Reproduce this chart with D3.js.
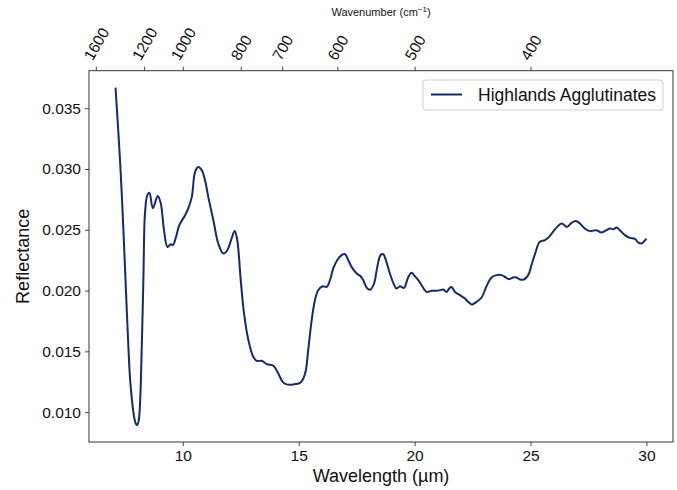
<!DOCTYPE html>
<html><head><meta charset="utf-8">
<script src="https://cdn.jsdelivr.net/npm/d3@7"></script>
<style>body{margin:0;background:#fff}svg{display:block}text{font-family:"Liberation Sans",Arial,sans-serif;fill:#111}</style>
</head><body><svg id="c" width="677" height="490"></svg>
<script>
const wavelength = [7.10,7.30,7.44,7.59,7.73,7.83,7.90,7.95,7.98,8.02,8.06,8.10,8.14,8.19,8.30,8.37,8.47,8.56,8.71,8.92,9.05,9.19,9.34,9.48,9.57,9.71,9.85,10.10,10.24,10.39,10.53,10.67,10.82,10.96,11.10,11.32,11.53,11.75,11.92,12.11,12.24,12.35,12.50,12.64,12.83,13.04,13.19,13.41,13.62,13.91,14.12,14.31,14.48,14.77,15.06,15.20,15.31,15.41,15.56,15.70,15.84,16.03,16.21,16.35,16.49,16.66,16.85,17.00,17.14,17.28,17.50,17.67,17.78,17.96,18.10,18.25,18.39,18.53,18.65,18.76,18.91,19.08,19.22,19.37,19.54,19.72,19.87,20.01,20.16,20.30,20.52,20.73,20.95,21.09,21.23,21.38,21.49,21.59,21.74,21.95,22.17,22.31,22.47,22.67,22.89,23.10,23.32,23.53,23.75,23.89,24.08,24.25,24.40,24.54,24.71,24.90,25.04,25.19,25.40,25.62,25.80,25.97,26.15,26.34,26.58,26.77,26.95,27.13,27.34,27.56,27.84,28.06,28.28,28.42,28.59,28.71,28.85,29.07,29.28,29.50,29.64,29.78,29.88,30.00];
const reflectance = [0.03670,0.03048,0.02497,0.01814,0.01263,0.01060,0.00960,0.00918,0.00902,0.00893,0.00902,0.00930,0.01010,0.01240,0.02086,0.02637,0.02785,0.02804,0.02678,0.02779,0.02719,0.02497,0.02359,0.02382,0.02373,0.02442,0.02538,0.02620,0.02678,0.02771,0.02976,0.03017,0.02990,0.02908,0.02771,0.02579,0.02387,0.02305,0.02332,0.02431,0.02491,0.02414,0.02086,0.01814,0.01592,0.01455,0.01422,0.01422,0.01395,0.01381,0.01318,0.01249,0.01228,0.01228,0.01241,0.01277,0.01345,0.01510,0.01757,0.01921,0.02003,0.02036,0.02030,0.02086,0.02182,0.02250,0.02291,0.02299,0.02250,0.02195,0.02141,0.02118,0.02086,0.02017,0.02009,0.02058,0.02195,0.02291,0.02299,0.02250,0.02154,0.02063,0.02017,0.02036,0.02022,0.02108,0.02146,0.02118,0.02086,0.02044,0.01989,0.01998,0.01998,0.02003,0.02009,0.01989,0.02017,0.02030,0.01989,0.01962,0.01935,0.01907,0.01886,0.01907,0.01943,0.02036,0.02108,0.02127,0.02127,0.02113,0.02094,0.02108,0.02108,0.02091,0.02091,0.02127,0.02209,0.02299,0.02401,0.02415,0.02442,0.02483,0.02524,0.02552,0.02524,0.02557,0.02573,0.02552,0.02511,0.02489,0.02497,0.02478,0.02497,0.02511,0.02505,0.02519,0.02497,0.02456,0.02433,0.02425,0.02396,0.02387,0.02401,0.02428];
const xTicks = [10,15,20,25,30];
const yTicks = [0.010,0.015,0.020,0.025,0.030,0.035];
const wavenumberTicks = [1600,1200,1000,800,700,600,500,400];
const seriesName = "Highlands Agglutinates";

const W=677,H=490, L=89, R=673, T=70.7, B=442;
const svg=d3.select("#c");
const xe=d3.extent(wavelength), ye=d3.extent(reflectance);
const xm=(xe[1]-xe[0])*0.05, ym=(ye[1]-ye[0])*0.05;
const x=d3.scaleLinear().domain([xe[0]-xm,xe[1]+xm]).range([L,R]);
const y=d3.scaleLinear().domain([ye[0]-ym,ye[1]+ym]).range([B,T]);
const fs=15.5;

const gx=svg.append("g").attr("transform",`translate(0,${B})`)
  .call(d3.axisBottom(x).tickValues(xTicks).tickFormat(d3.format("d")).tickSizeOuter(0).tickSize(4).tickPadding(4));
const gy=svg.append("g").attr("transform",`translate(${L},0)`)
  .call(d3.axisLeft(y).tickValues(yTicks).tickFormat(d3.format(".3f")).tickSizeOuter(0).tickSize(4).tickPadding(4));
const gt=svg.append("g").attr("transform",`translate(0,${T})`)
  .call(d3.axisTop(x).tickValues(wavenumberTicks.map(w=>10000/w)).tickFormat(d=>Math.round(10000/d)).tickSizeOuter(0).tickSize(4));
[gx,gy,gt].forEach(g=>{g.select(".domain").remove();g.selectAll("line").attr("stroke","#333").attr("stroke-width",0.9);
  g.selectAll("text").style("font-size",fs+"px").attr("fill","#111");});
gt.selectAll("text").each(function(){
  const t=d3.select(this); const w=this.getComputedTextLength();
  const h=w*Math.sin(Math.PI/3)+fs*Math.cos(Math.PI/3);
  t.attr("y",null).attr("dy",null).attr("text-anchor","middle").attr("dominant-baseline","central")
   .attr("transform",`translate(0,${-8-h/2}) rotate(-60)`);
});

svg.append("rect").attr("x",L).attr("y",T).attr("width",R-L).attr("height",B-T)
  .attr("fill","none").attr("stroke","#333").attr("stroke-width",1);

const data=wavelength.map((d,i)=>[d,reflectance[i]]);
svg.append("path").datum(data).attr("fill","none").attr("stroke","#17296b").attr("stroke-width",2)
  .attr("stroke-linejoin","round")
  .attr("d",d3.line().x(d=>x(d[0])).y(d=>y(d[1])).curve(d3.curveCatmullRom.alpha(0.5)));

svg.append("text").attr("x",(L+R)/2).attr("y",482).attr("text-anchor","middle").style("font-size","18px").text("Wavelength (µm)");
svg.append("text").attr("transform",`translate(29,${(T+B)/2}) rotate(-90)`).attr("text-anchor","middle").style("font-size","18px").text("Reflectance");
const wt=svg.append("text").attr("x",(L+R)/2).attr("y",16).attr("text-anchor","middle").style("font-size","11px");
wt.append("tspan").text("Wavenumber (cm");
wt.append("tspan").attr("dy",-4).style("font-size","8px").text("−1");
wt.append("tspan").attr("dy",4).text(")");

const lg=svg.append("g");
lg.append("rect").attr("x",423).attr("y",80).attr("width",240).attr("height",30).attr("rx",3)
  .attr("fill","#fff").attr("fill-opacity",0.8).attr("stroke","#d0d0d0");
lg.append("line").attr("x1",431).attr("x2",462).attr("y1",94.5).attr("y2",94.5).attr("stroke","#17296b").attr("stroke-width",2);
lg.append("text").attr("x",478).attr("y",95).attr("dominant-baseline","central").style("font-size","17.5px").text(seriesName);
</script></body></html>
